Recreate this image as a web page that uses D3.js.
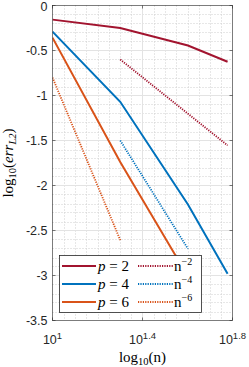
<!DOCTYPE html>
<html>
<head>
<meta charset="utf-8">
<script src="https://cdn.jsdelivr.net/npm/d3@7"></script>
<style>
  body { margin: 0; background: #fff; }
  .tick-label { font-family: "Liberation Sans", Arial, sans-serif; font-size: 12.5px; fill: #262626; }
  .tex { font-family: "Liberation Serif", "DejaVu Serif", serif; fill: #000; }
</style>
</head>
<body>
<div id="chart"></div>
<script>
// Convergence data: log10 of the L2 error against n
const nValues = [10, 20, 40, 60];
const errP2 = [-0.157, -0.25, -0.445, -0.625];
const errP4 = [-0.29, -1.07, -2.21, -2.98];
const nValuesP6 = [10, 20, 40];
const errP6 = [-0.357, -1.74, -3.01];

// Reference slopes
const refN2 = [20, 60];
const refErrN2 = [-0.6, -1.554];
const refN4 = [20, 40];
const refErrN4 = [-1.5, -2.704];
const refN6 = [10, 20];
const refErrN6 = [-0.8, -2.606];

const yTicks = [0, -0.5, -1, -1.5, -2, -2.5, -3, -3.5];
const xTickExps = [1, 1.4, 1.8];

const colors = { p2: '#A2142F', p4: '#0072BD', p6: '#D95319' };

const config = {
  width: 249,
  height: 367,
  left: 52.5, right: 232.5, top: 5.5, bottom: 320.5
};

const svg = d3.select('#chart').append('svg')
  .attr('width', config.width)
  .attr('height', config.height);

const x = d3.scaleLog()
  .domain([10, Math.pow(10, 1.8)])
  .range([config.left, config.right]);

const y = d3.scaleLinear()
  .domain([-3.5, 0])
  .range([config.bottom, config.top]);

const grid = svg.append('g');

// minor grid (dotted)
const minorX = d3.range(1.05, 1.8, 0.05).filter(e => Math.abs(e - 1.4) > 1e-6);
grid.selectAll('.minor-x')
  .data(minorX)
  .join('line')
    .attr('x1', d => Math.round(x(Math.pow(10, d))) + 0.5)
    .attr('x2', d => Math.round(x(Math.pow(10, d))) + 0.5)
    .attr('y1', config.top).attr('y2', config.bottom)
    .attr('stroke', '#cfcfcf').attr('stroke-width', 1)
    .attr('stroke-dasharray', '1,2');

const minorY = d3.range(-3.4, 0, 0.1).filter(v => Math.abs(v * 2 - Math.round(v * 2)) > 1e-6);
grid.selectAll('.minor-y')
  .data(minorY)
  .join('line')
    .attr('x1', config.left).attr('x2', config.right)
    .attr('y1', d => Math.round(y(d)) + 0.5)
    .attr('y2', d => Math.round(y(d)) + 0.5)
    .attr('stroke', '#cfcfcf').attr('stroke-width', 1)
    .attr('stroke-dasharray', '1,2');

// major grid
grid.selectAll('.major-y')
  .data(yTicks.slice(1, -1))
  .join('line')
    .attr('x1', config.left).attr('x2', config.right)
    .attr('y1', d => y(d)).attr('y2', d => y(d))
    .attr('stroke', '#e3e3e3').attr('stroke-width', 1);

grid.selectAll('.major-x')
  .data(xTickExps.slice(1, -1))
  .join('line')
    .attr('x1', d => x(Math.pow(10, d))).attr('x2', d => x(Math.pow(10, d)))
    .attr('y1', config.top).attr('y2', config.bottom)
    .attr('stroke', '#e3e3e3').attr('stroke-width', 1);

// series
const line = d3.line().x(d => x(d[0])).y(d => y(d[1]));
const zip = (a, b) => a.map((v, i) => [v, b[i]]);

const series = [
  { pts: zip(nValues, errP2), color: colors.p2, dotted: false },
  { pts: zip(nValues, errP4), color: colors.p4, dotted: false },
  { pts: zip(nValuesP6, errP6), color: colors.p6, dotted: false },
  { pts: zip(refN2, refErrN2), color: colors.p2, dotted: true },
  { pts: zip(refN4, refErrN4), color: colors.p4, dotted: true },
  { pts: zip(refN6, refErrN6), color: colors.p6, dotted: true }
];

svg.append('clipPath').attr('id', 'clip')
  .append('rect')
    .attr('x', config.left).attr('y', config.top)
    .attr('width', config.right - config.left)
    .attr('height', config.bottom - config.top);

svg.append('g').attr('clip-path', 'url(#clip)')
  .selectAll('path')
  .data(series)
  .join('path')
    .attr('d', d => line(d.pts))
    .attr('fill', 'none')
    .attr('stroke', d => d.color)
    .attr('stroke-width', d => d.dotted ? 1.8 : 2)
    .attr('stroke-dasharray', d => d.dotted ? '1.2,1.2' : null);

// axes box
const axisColor = '#262626';
const box = svg.append('g');
box.append('rect')
  .attr('x', config.left).attr('y', config.top)
  .attr('width', config.right - config.left)
  .attr('height', config.bottom - config.top)
  .attr('fill', 'none').attr('stroke', axisColor).attr('stroke-width', 0.6);

// ticks (inward, both sides)
const tickLen = 3;
yTicks.forEach(v => {
  box.append('line').attr('x1', config.left).attr('x2', config.left + tickLen)
    .attr('y1', y(v)).attr('y2', y(v)).attr('stroke', axisColor).attr('stroke-width', 0.6);
  box.append('line').attr('x1', config.right).attr('x2', config.right - tickLen)
    .attr('y1', y(v)).attr('y2', y(v)).attr('stroke', axisColor).attr('stroke-width', 0.6);
});
xTickExps.forEach(e => {
  const px = x(Math.pow(10, e));
  box.append('line').attr('x1', px).attr('x2', px)
    .attr('y1', config.bottom).attr('y2', config.bottom - tickLen).attr('stroke', axisColor).attr('stroke-width', 0.6);
  box.append('line').attr('x1', px).attr('x2', px)
    .attr('y1', config.top).attr('y2', config.top + tickLen).attr('stroke', axisColor).attr('stroke-width', 0.6);
});

// tick labels
svg.selectAll('.ylab')
  .data(yTicks)
  .join('text')
    .attr('class', 'tick-label')
    .attr('font-size', '12px')
    .attr('x', config.left - 5)
    .attr('y', d => Math.max(y(d), 6.5))
    .attr('dy', '0.36em')
    .attr('text-anchor', 'end')
    .text(d => d === 0 ? '0' : String(d));

const xl = svg.selectAll('.xlab')
  .data(xTickExps)
  .join('text')
    .attr('class', 'tick-label')
    .attr('x', d => x(Math.pow(10, d)))
    .attr('y', 344)
    .attr('text-anchor', 'middle');
xl.append('tspan').text('10');
xl.append('tspan').attr('font-size', '9.5px').attr('dy', '-5.5').text(d => String(d));

// axis labels
const xLabel = svg.append('text')
  .attr('class', 'tex')
  .attr('x', (config.left + config.right) / 2)
  .attr('y', 362)
  .attr('text-anchor', 'middle')
  .attr('font-size', '15px');
xLabel.append('tspan').text('log');
xLabel.append('tspan').attr('font-size', '10.5px').attr('dy', 3).text('10');
xLabel.append('tspan').attr('dy', -3).text('(n)');

const yLabel = svg.append('text')
  .attr('class', 'tex')
  .attr('transform', `translate(13,${(config.top + config.bottom) / 2}) rotate(-90)`)
  .attr('text-anchor', 'middle')
  .attr('font-size', '15px');
yLabel.append('tspan').text('log');
yLabel.append('tspan').attr('font-size', '10.5px').attr('dy', 3).text('10');
yLabel.append('tspan').attr('dy', -3).text('(');
yLabel.append('tspan').attr('font-style', 'italic').text('err');
yLabel.append('tspan').attr('font-style', 'italic').attr('font-size', '10.5px').attr('dy', 3).text('L2');
yLabel.append('tspan').attr('dy', -3).text(')');

// legend
const legendItems = [
  { color: colors.p2, dotted: false, label: '2', col: 0, row: 0 },
  { color: colors.p4, dotted: false, label: '4', col: 0, row: 1 },
  { color: colors.p6, dotted: false, label: '6', col: 0, row: 2 },
  { color: colors.p2, dotted: true, label: '−2', col: 1, row: 0 },
  { color: colors.p4, dotted: true, label: '−4', col: 1, row: 1 },
  { color: colors.p6, dotted: true, label: '−6', col: 1, row: 2 }
];

const legend = svg.append('g');
legend.append('rect')
  .attr('x', 59.5).attr('y', 255.5).attr('width', 142).attr('height', 57)
  .attr('fill', '#fff').attr('stroke', axisColor).attr('stroke-width', 0.8);

const rowY = [266, 284, 302];
const colX = [{ x1: 62, x2: 96, tx: 98 }, { x1: 138, x2: 173, tx: 174 }];

legend.selectAll('.leg-line')
  .data(legendItems)
  .join('line')
    .attr('x1', d => colX[d.col].x1).attr('x2', d => colX[d.col].x2)
    .attr('y1', d => rowY[d.row]).attr('y2', d => rowY[d.row])
    .attr('stroke', d => d.color)
    .attr('stroke-width', d => d.dotted ? 1.8 : 2)
    .attr('stroke-dasharray', d => d.dotted ? '1.2,1.2' : null);

const legText = legend.selectAll('.leg-text')
  .data(legendItems)
  .join('text')
    .attr('class', 'tex')
    .attr('font-size', '15px')
    .attr('x', d => colX[d.col].tx)
    .attr('y', d => rowY[d.row] + 5);

legText.filter(d => d.col === 0).each(function(d) {
  const t = d3.select(this);
  t.append('tspan').attr('font-style', 'italic').text('p');
  t.append('tspan').text(' = ' + d.label);
});
legText.filter(d => d.col === 1).each(function(d) {
  const t = d3.select(this);
  t.append('tspan').text('n');
  t.append('tspan').attr('font-size', '10px').attr('dy', -6).text(d.label);
});
</script>
</body>
</html>
